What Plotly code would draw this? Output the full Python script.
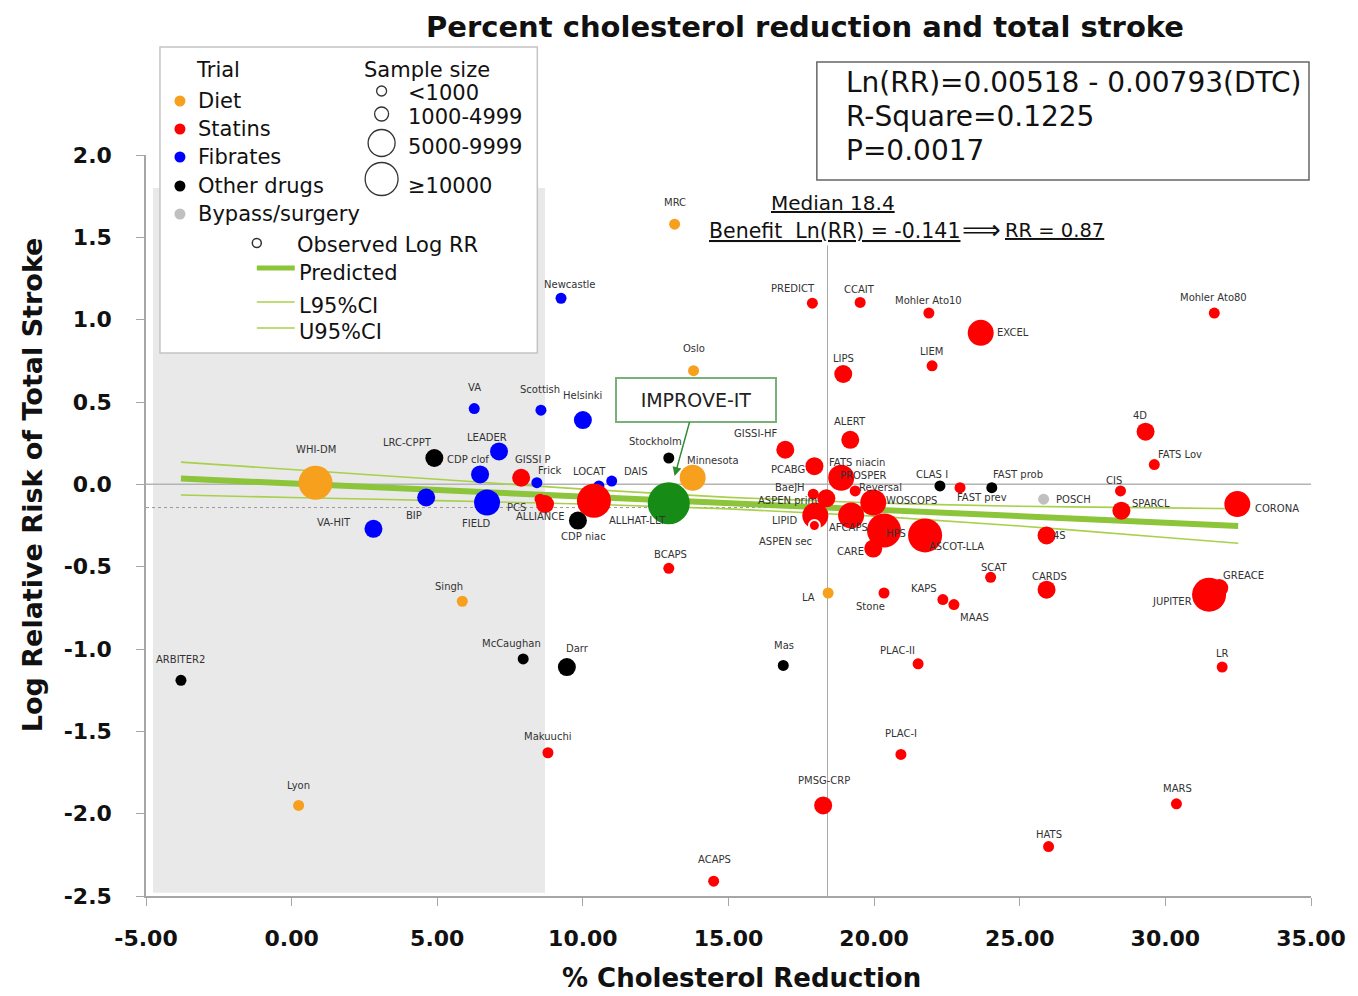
import plotly.graph_objects as go

# ---------------- data ----------------
trials = ["WHI-DM", "MRC", "Oslo", "Minnesota", "Singh", "Lyon", "LA",
          "Newcastle", "VA", "Scottish", "Helsinki", "LEADER", "CDP clof", "Frick", "LOCAT", "DAIS",
          "BIP", "FIELD", "VA-HIT",
          "LRC-CPPT", "Stockholm", "CDP niac", "ARBITER2", "McCaughan", "Darr", "Mas", "FATS niacin",
          "CLAS I", "FAST prob",
          "POSCH",
          "GISSI P", "PCS", "ALLIANCE", "ALLHAT-LLT", "GISSI-HF", "ALERT", "PCABG", "PROSPER", "Reversal",
          "BaeJH", "ASPEN prim", "WOSCOPS", "LIPID", "ASPEN sec", "AFCAPS", "HPS", "CARE", "ASCOT-LLA",
          "FAST prev", "4S", "CIS", "SPARCL", "CORONA", "4D", "FATS Lov", "PREDICT", "CCAIT",
          "Mohler Ato10", "EXCEL", "LIEM", "LIPS", "Mohler Ato80", "BCAPS", "SCAT", "CARDS", "KAPS",
          "MAAS", "Stone", "JUPITER", "GREACE", "PLAC-II", "LR", "Makuuchi", "PLAC-I", "PMSG-CRP",
          "MARS", "HATS", "ACAPS",
          "IMPROVE-IT"]

chol_reduction = [0.82, 13.15, 13.80, 13.77, 5.86, 0.24, 18.42,
                  9.25, 6.27, 8.56, 10.0, 7.12, 6.47, 8.42, 10.55, 10.99,
                  4.62, 6.71, 2.81,
                  4.90, 12.95, 9.83, -3.80, 7.95, 9.45, 16.88, 19.0,
                  22.26, 24.04,
                  25.82,
                  7.88, 8.53, 8.70, 10.38, 16.95, 19.18, 17.95, 18.87, 19.35,
                  17.91, 18.36, 19.97, 17.98, 17.95, 19.21, 20.34, 19.97, 21.75,
                  22.95, 25.92, 28.46, 28.49, 32.47, 29.32, 29.62, 17.88, 19.52,
                  21.88, 23.66, 21.99, 18.94, 31.68, 12.95, 24.0, 25.92, 22.36,
                  22.74, 20.34, 31.5, 31.85, 21.51, 31.95, 8.80, 20.92, 18.25,
                  30.38, 25.99, 14.49,
                  12.95]

log_rr = [0.01, 1.58, 0.69, 0.04, -0.71, -1.95, -0.66,
          1.13, 0.46, 0.45, 0.39, 0.20, 0.06, 0.01, -0.01, 0.02,
          -0.08, -0.11, -0.27,
          0.16, 0.16, -0.22, -1.19, -1.06, -1.11, -1.10, 0.07,
          -0.01, -0.02,
          -0.09,
          0.04, -0.09, -0.12, -0.10, 0.21, 0.27, 0.11, 0.04, -0.04,
          -0.06, -0.085, -0.11, -0.19, -0.25, -0.19, -0.28, -0.39, -0.31,
          -0.02, -0.31, -0.04, -0.16, -0.12, 0.32, 0.12, 1.10, 1.105,
          1.04, 0.92, 0.72, 0.67, 1.04, -0.51, -0.565, -0.64, -0.70,
          -0.73, -0.66, -0.67, -0.63, -1.09, -1.11, -1.63, -1.64, -1.95,
          -1.94, -2.20, -2.41,
          -0.115]

trial_type = (["Diet"] * 7 + ["Fibrates"] * 12 + ["Other drugs"] * 10 + ["Bypass/surgery"] * 1
              + ["Statins"] * 48 + ["IMPROVE-IT"])

# 0: <1000, 1: 1000-4999, 2: 5000-9999, 3: >=10000
sample_class = [3, 0, 0, 2, 0, 0, 0,
                0, 0, 0, 1, 1, 1, 0, 0, 0,
                1, 2, 1,
                1, 0, 1, 0, 0, 1, 0, 0,
                0, 0,
                0,
                1, 0, 1, 3, 1, 1, 1, 2, 0,
                0, 1, 2, 2, 0, 2, 3, 1, 3,
                0, 1, 0, 1, 2, 1, 0, 0, 0,
                0, 2, 0, 1, 0, 0, 0, 1, 0,
                0, 0, 3, 1, 0, 0, 0, 0, 1,
                0, 0, 0,
                4]

# regression line and 95% CI
pred_x = [-3.8, 32.5]
pred_y = [0.035, -0.253]
ci_x = [-3.8, 0, 5, 10, 15, 20, 25, 30, 32.5]
ci_upper = [0.135, 0.09, 0.031, -0.029, -0.079, -0.113, -0.133, -0.143, -0.148]
ci_lower = [-0.065, -0.08, -0.099, -0.119, -0.149, -0.193, -0.253, -0.323, -0.358]

median_dtc = 18.4
benefit_lnrr = -0.141

x_tickvals = [-5, 0, 5, 10, 15, 20, 25, 30, 35]
x_ticktext = ["-5.00", "0.00", "5.00", "10.00", "15.00", "20.00", "25.00", "30.00", "35.00"]
y_tickvals = [-2.5, -2.0, -1.5, -1.0, -0.5, 0.0, 0.5, 1.0, 1.5, 2.0]
y_ticktext = ["-2.5", "-2.0", "-1.5", "-1.0", "-0.5", "0.0", "0.5", "1.0", "1.5", "2.0"]

# ---------------- styles ----------------
colors = {"Diet": "#f6a01e", "Statins": "#ff0000", "Fibrates": "#0000ff",
          "Other drugs": "#000000", "Bypass/surgery": "#c0c0c0", "IMPROVE-IT": "#168c16"}
diam = {0: 11, 1: 18, 2: 26, 3: 34, 4: 42}

# label offsets (screen px, dx right, dy down) from the marker centre
label_off = {
    "WHI-DM": (0, -33), "MRC": (0, -22), "Oslo": (0, -22), "Minnesota": (20, -17), "Singh": (-13, -15),
    "Lyon": (0, -20), "LA": (-20, 4), "Newcastle": (9, -14), "VA": (0, -21), "Scottish": (-1, -21),
    "Helsinki": (0, -25), "LEADER": (-12, -14), "CDP clof": (-12, -15), "Frick": (13, -12),
    "LOCAT": (-9, -14), "DAIS": (24, -10), "BIP": (-12, 18), "FIELD": (-11, 21), "VA-HIT": (-39, -6),
    "LRC-CPPT": (-27, -15), "Stockholm": (-13, -16), "CDP niac": (6, 16), "ARBITER2": (0, -21),
    "McCaughan": (-12, -15), "Darr": (11, -19), "Mas": (1, -20), "FATS niacin": (12, -10),
    "CLAS I": (-8, -11), "FAST prob": (26, -13), "POSCH": (30, 0), "GISSI P": (12, -18),
    "PCS": (-24, 8), "ALLIANCE": (-5, 12), "ALLHAT-LLT": (44, 20), "GISSI-HF": (-30, -16),
    "ALERT": (0, -18), "PCABG": (-26, 3), "PROSPER": (22, -2), "Reversal": (25, -3),
    "BaeJH": (-23, -7), "ASPEN prim": (-39, 2), "WOSCOPS": (38, -2), "LIPID": (-30, 5),
    "ASPEN sec": (-29, 16), "AFCAPS": (-3, 12), "HPS": (12, 3), "CARE": (-23, 3),
    "ASCOT-LLA": (31, 11), "FAST prev": (22, 10), "4S": (13, 0), "CIS": (-7, -10),
    "SPARCL": (30, -7), "CORONA": (40, 4), "4D": (-6, -16), "FATS Lov": (26, -10),
    "PREDICT": (-19, -15), "CCAIT": (-1, -13), "Mohler Ato10": (0, -13), "EXCEL": (32, 0),
    "LIEM": (-1, -14), "LIPS": (0, -16), "Mohler Ato80": (-1, -16), "BCAPS": (2, -14),
    "SCAT": (3, -10), "CARDS": (3, -13), "KAPS": (-19, -11), "MAAS": (21, 13), "Stone": (-14, 13),
    "JUPITER": (-37, 7), "GREACE": (24, -13), "PLAC-II": (-21, -13), "LR": (0, -14),
    "Makuuchi": (0, -16), "PLAC-I": (0, -21), "PMSG-CRP": (1, -25), "MARS": (1, -15),
    "HATS": (0, -12), "ACAPS": (1, -22),
}

FONT = "DejaVu Sans"
W, H = 1358, 996
L, R, T, B = 146, 1313, 155, 896


def PX(x):
    return (x - L) / (R - L)


def PY(y):
    return (B - y) / (B - T)


fig = go.Figure()

# CI and predicted lines
fig.add_trace(go.Scatter(x=ci_x, y=ci_upper, mode="lines", line=dict(color="#a8d04a", width=1.6, shape="spline"),
                         hoverinfo="skip", showlegend=False))
fig.add_trace(go.Scatter(x=ci_x, y=ci_lower, mode="lines", line=dict(color="#a8d04a", width=1.6, shape="spline"),
                         hoverinfo="skip", showlegend=False))
fig.add_trace(go.Scatter(x=pred_x, y=pred_y, mode="lines", line=dict(color="#8cc43a", width=6),
                         hoverinfo="skip", showlegend=False))

# points per trial type
for ttype in ["Diet", "Fibrates", "Other drugs", "Bypass/surgery", "Statins", "IMPROVE-IT"]:
    idx = [i for i, t in enumerate(trial_type) if t == ttype]
    line_w = [2 if trials[i] == "ASPEN sec" else 0 for i in idx]
    fig.add_trace(go.Scatter(
        x=[chol_reduction[i] for i in idx], y=[log_rr[i] for i in idx],
        mode="markers", name=ttype, text=[trials[i] for i in idx],
        marker=dict(color=colors[ttype], size=[diam[sample_class[i]] for i in idx],
                    line=dict(color="white", width=line_w), opacity=1),
        showlegend=False, hoverinfo="text"))

annotations = []
for i, name in enumerate(trials):
    if name not in label_off:
        continue
    dx, dy = label_off[name]
    annotations.append(dict(x=chol_reduction[i], y=log_rr[i], xref="x", yref="y", text=name,
                            showarrow=False, xshift=dx, yshift=-dy,
                            font=dict(family=FONT, size=10, color="#333333")))

# IMPROVE-IT call-out
imp = trials.index("IMPROVE-IT")
annotations.append(dict(x=chol_reduction[imp] + 0.2, y=log_rr[imp] + 0.165, xref="x", yref="y",
                        text="IMPROVE-IT", showarrow=True, ax=21, ay=-76, arrowhead=2, arrowsize=1.2,
                        arrowwidth=1.5, arrowcolor="#2e8b2e", bgcolor="white", bordercolor="#7ab07a",
                        borderwidth=2, borderpad=4, width=150, height=34,
                        font=dict(family=FONT, size=19, color="#222222")))

shapes = []
# shaded region
shapes.append(dict(type="rect", xref="x", yref="y", x0=-4.76, x1=8.7, y0=-2.48, y1=1.8,
                   fillcolor="#e9e9e9", line=dict(width=0), layer="below"))
# zero line, benefit line, median line
shapes.append(dict(type="line", xref="x", yref="y", x0=-5, x1=35, y0=0, y1=0,
                   line=dict(color="#b4b4b4", width=1.5), layer="below"))
shapes.append(dict(type="line", xref="x", yref="y", x0=-5, x1=median_dtc, y0=benefit_lnrr, y1=benefit_lnrr,
                   line=dict(color="#9a9a9a", width=1, dash="dot"), layer="below"))
shapes.append(dict(type="line", xref="x", yref="y", x0=median_dtc, x1=median_dtc, y0=-2.5, y1=1.45,
                   line=dict(color="#a8a8a8", width=1), layer="below"))

# legend box
shapes.append(dict(type="rect", xref="paper", yref="paper", x0=PX(160), x1=PX(538), y0=PY(353), y1=PY(47),
                   fillcolor="white", line=dict(color="#c4c4c4", width=1.5), layer="above"))
# equation box
shapes.append(dict(type="rect", xref="paper", yref="paper", x0=PX(818), x1=PX(1311), y0=PY(180), y1=PY(62),
                   fillcolor="white", line=dict(color="#666666", width=1.5), layer="above"))


def circle(cx, cy, d, fill, line_color, lw):
    r = d / 2
    return dict(type="circle", xref="paper", yref="paper", x0=PX(cx - r), x1=PX(cx + r),
                y0=PY(cy + r), y1=PY(cy - r), fillcolor=fill, line=dict(color=line_color, width=lw),
                layer="above")


def ptext(x, y, s, size, anchor="left", bold=False, color="#111111"):
    return dict(x=PX(x), y=PY(y), xref="paper", yref="paper", text=("<b>%s</b>" % s) if bold else s,
                showarrow=False, xanchor=anchor, yanchor="middle",
                font=dict(family=FONT, size=size, color=color))


# legend content
annotations.append(ptext(218, 70, "Trial", 21, "center"))
leg_items = [("Diet", 101), ("Statins", 129), ("Fibrates", 157), ("Other drugs", 186), ("Bypass/surgery", 214)]
for lab, yy in leg_items:
    shapes.append(circle(180, yy, 11, colors[lab], colors[lab], 0))
    annotations.append(ptext(196, yy, lab, 21))
annotations.append(ptext(427, 70, "Sample size", 21, "center"))
size_items = [("<1000", 91, 10, 93), ("1000-4999", 114, 14, 117), ("5000-9999", 143, 27, 147),
              ("≥10000", 179, 33, 186)]
for lab, yy, d, ty in size_items:
    shapes.append(circle(382, yy, d, "white", "#333333", 1.3))
    annotations.append(ptext(406, ty, lab, 21))
shapes.append(circle(257, 243, 9, "white", "#333333", 1.5))
annotations.append(ptext(295, 245, "Observed Log RR", 21))
shapes.append(dict(type="line", xref="paper", yref="paper", x0=PX(257), x1=PX(295), y0=PY(268), y1=PY(268),
                   line=dict(color="#8cc43a", width=5), layer="above"))
annotations.append(ptext(297, 273, "Predicted", 21))
for lab, yy in [("L95%CI", 302), ("U95%CI", 328)]:
    shapes.append(dict(type="line", xref="paper", yref="paper", x0=PX(257), x1=PX(295), y0=PY(yy), y1=PY(yy),
                       line=dict(color="#a8d04a", width=1.6), layer="above"))
    annotations.append(ptext(297, yy + 4, lab, 21))

# equation text
annotations.append(ptext(845, 83, "Ln(RR)=0.00518 - 0.00793(DTC)", 28))
annotations.append(ptext(845, 117, "R-Square=0.1225", 28))
annotations.append(ptext(845, 151, "P=0.0017", 28))

# median / benefit text
annotations.append(ptext(834, 203, "<u>Median 18.4</u>", 20, "center"))
annotations.append(ptext(708, 231, "<u>Benefit  Ln(RR) = -0.141</u>", 20.5))
annotations.append(ptext(961, 230, "⟹", 27))
annotations.append(ptext(1004, 231, "<u>RR = 0.87</u>", 19.5))

# title and axis titles
annotations.append(ptext(806, 27, "Percent cholesterol reduction and total stroke", 29, "center", bold=True))
annotations.append(ptext(743, 978, "% Cholesterol Reduction", 26, "center", bold=True))
annotations.append(dict(x=PX(32), y=PY(485), xref="paper", yref="paper",
                        text="<b>Log Relative Risk of Total Stroke</b>", textangle=-90, showarrow=False,
                        xanchor="center", yanchor="middle", font=dict(family=FONT, size=27, color="#111111")))

fig.update_layout(
    width=W, height=H, autosize=False,
    margin=dict(l=L, r=W - R, t=T, b=H - B, pad=0),
    paper_bgcolor="white", plot_bgcolor="white",
    showlegend=False,
    shapes=shapes, annotations=annotations,
    xaxis=dict(range=[-5, 35], tickmode="array", tickvals=x_tickvals, ticktext=x_ticktext,
               showgrid=False, zeroline=False,
               showline=True, linecolor="#a6a6a6", linewidth=1.5, ticks="outside", ticklen=8,
               tickcolor="#a6a6a6", ticklabelstandoff=14,
               tickfont=dict(family=FONT, size=22, color="#111111", weight="bold")),
    yaxis=dict(range=[-2.5, 2.0], tickmode="array", tickvals=y_tickvals, ticktext=y_ticktext,
               showgrid=False, zeroline=False,
               showline=True, linecolor="#a6a6a6", linewidth=1.5, ticks="outside", ticklen=8,
               tickcolor="#a6a6a6", ticklabelstandoff=20,
               tickfont=dict(family=FONT, size=22, color="#111111", weight="bold")),
)

fig.write_html("out.html", config={"displayModeBar": False},
               post_script="document.body.style.margin='0px';")
